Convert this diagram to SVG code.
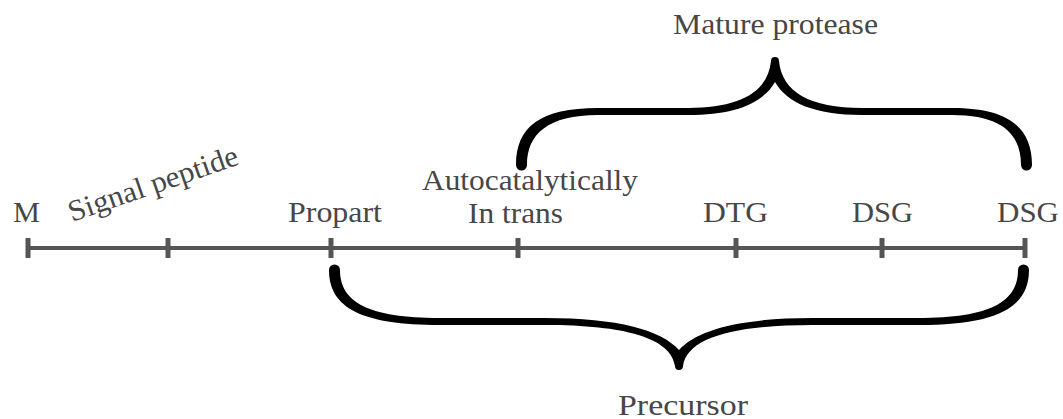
<svg xmlns="http://www.w3.org/2000/svg" width="1063" height="419" viewBox="0 0 1063 419">
<style>
.t{font-family:"Liberation Serif","Times New Roman",serif;font-size:30px;fill:#474747}
.ax{stroke:#555;stroke-width:4;fill:none}
.tk{stroke:#555;stroke-width:5;fill:none}
.br{fill:#000;stroke:none}
</style>
<rect width="1063" height="419" fill="#fff"/>
<g id="connectors">
<line class="ax" x1="28" y1="248" x2="1025" y2="248"/>
<line class="tk" x1="28" y1="238" x2="28" y2="258"/>
<line class="tk" x1="168" y1="238" x2="168" y2="258"/>
<line class="tk" x1="331" y1="238" x2="331" y2="258"/>
<line class="tk" x1="518" y1="238" x2="518" y2="258"/>
<line class="tk" x1="736" y1="238" x2="736" y2="258"/>
<line class="tk" x1="882" y1="238" x2="882" y2="258"/>
<line class="tk" x1="1025" y1="238" x2="1025" y2="258"/>
</g>
<g id="brace-mature">
<path class="br" d="M 516,165 C 516,127 540,108 598,108 L 688,108 C 740,108 768,92 771,61 A 4,4 0 0 1 779,61 C 782,92 810,108 862,108 L 952,108 C 1008,108 1032,127 1032,165 A 5.5,5.5 0 0 1 1021,165 C 1021,134 1002,115 952,115 L 862,115 C 815,115 787,103 775,82 C 763,103 735,115 688,115 L 598,115 C 548,115 527,134 527,165 A 5.5,5.5 0 0 1 516,165 Z"/>
</g>
<g id="brace-precursor">
<path class="br" d="M 329,270 C 329,308 362,325 440,325 L 545,325 C 625,325 671,338 675,366 A 4,4 0 0 0 683,366 C 687,338 733,325 813,325 L 918,325 C 996,325 1029,308 1029,270 A 5.5,5.5 0 0 0 1018,270 C 1018,302 990,318 918,318 L 813,318 C 740,318 697,330 679,350 C 661,330 618,318 545,318 L 440,318 C 368,318 340,302 340,270 A 5.5,5.5 0 0 0 329,270 Z"/>
</g>
<g id="label-M"><text class="t" x="13" y="222" textLength="27" lengthAdjust="spacingAndGlyphs">M</text></g>
<g id="label-signal"><text class="t" x="0" y="0" transform="translate(72,222) rotate(-19)" textLength="178" lengthAdjust="spacingAndGlyphs">Signal peptide</text></g>
<g id="label-propart"><text class="t" x="288" y="222" textLength="94" lengthAdjust="spacingAndGlyphs">Propart</text></g>
<g id="label-auto"><text class="t" x="422" y="190" textLength="216" lengthAdjust="spacingAndGlyphs">Autocatalytically</text>
<text class="t" x="468" y="223" textLength="95" lengthAdjust="spacingAndGlyphs">In trans</text></g>
<g id="label-dtg"><text class="t" x="703" y="222" textLength="65" lengthAdjust="spacingAndGlyphs">DTG</text></g>
<g id="label-dsg1"><text class="t" x="852" y="222" textLength="61" lengthAdjust="spacingAndGlyphs">DSG</text></g>
<g id="label-dsg2"><text class="t" x="997" y="222" textLength="62" lengthAdjust="spacingAndGlyphs">DSG</text></g>
<g id="label-mature"><text class="t" x="673" y="34" textLength="205" lengthAdjust="spacingAndGlyphs">Mature protease</text></g>
<g id="label-precursor"><text class="t" x="618" y="415" textLength="130" lengthAdjust="spacingAndGlyphs">Precursor</text></g>
</svg>
